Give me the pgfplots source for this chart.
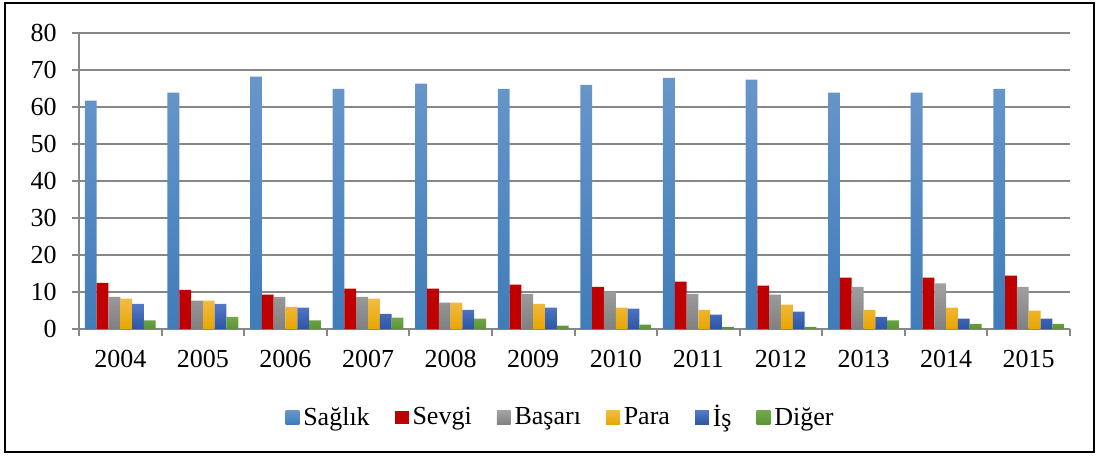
\documentclass[border=0pt]{standalone}
\usepackage{pgfplots}
\pgfplotsset{compat=1.18}
\usepackage{fontspec}
\setmainfont{Liberation Serif}
\usetikzlibrary{calc}
\definecolor{csagT}{HTML}{6896CA}
\definecolor{csagB}{HTML}{3F7CB9}
\definecolor{csev}{HTML}{C00000}
\definecolor{cbasT}{HTML}{A2A2A2}
\definecolor{cbasB}{HTML}{808080}
\definecolor{cparT}{HTML}{F0BC45}
\definecolor{cparB}{HTML}{E9A600}
\definecolor{cisT}{HTML}{5479C7}
\definecolor{cisB}{HTML}{2C55A6}
\definecolor{cdigT}{HTML}{71A84A}
\definecolor{cdigB}{HTML}{5A9436}
\definecolor{cgrid}{HTML}{878787}
\begin{document}
\begin{tikzpicture}
\begin{axis}[
  name=ax,
  scale only axis,
  width=495.5pt, height=148pt,
  xmin=-0.5, xmax=11.5, ymin=0, ymax=80,
  ybar=0pt, bar width=5.9pt,
  axis y line*=left, axis x line*=bottom,
  axis line style={cgrid, line width=1pt, -},
  ytick={0,10,...,80},
  ymajorgrids, grid style={cgrid, line width=0.9pt},
  xtick={0,...,11},
  xticklabels={2004,2005,2006,2007,2008,2009,2010,2011,2012,2013,2014,2015},
  minor xtick={-0.5,0.5,...,11.5},
  major x tick style={draw=none},
  minor x tick style={cgrid, line width=1pt},
  minor tick length=3.6pt,
  major tick length=3.6pt,
  y tick style={cgrid, line width=1pt},
  tick align=outside,
  tick label style={font=\fontsize{13}{15}\selectfont, text=black},
  /pgf/number format/assume math mode=true,
  xticklabel style={yshift=-3.5pt},
  yticklabel style={xshift=-4pt},
  legend columns=6,
  legend style={draw=none, fill=none, font=\fontsize{13}{15}\selectfont,
    at={($(0,0)!0.487!(1,0)+(0,-34pt)$)}, anchor=north,
    /tikz/every even column/.append style={column sep=10.6pt}},
  legend image code/.code={\path[#1, draw=none] (0pt,-3.4pt) rectangle (6.8pt,3.4pt);},
  legend cell align=left,
]
\addplot[top color=csagT, bottom color=csagB, draw=none] coordinates {(0,61.7) (1,63.9) (2,68.2) (3,64.9) (4,66.3) (5,64.9) (6,66.0) (7,67.9) (8,67.4) (9,63.9) (10,63.9) (11,64.9)};
\addplot[fill=csev, draw=none] coordinates {(0,12.5) (1,10.6) (2,9.3) (3,10.9) (4,10.9) (5,12.0) (6,11.4) (7,12.8) (8,11.7) (9,13.9) (10,13.9) (11,14.4)};
\addplot[top color=cbasT, bottom color=cbasB, draw=none] coordinates {(0,8.7) (1,7.7) (2,8.7) (3,8.7) (4,7.1) (5,9.5) (6,10.1) (7,9.5) (8,9.3) (9,11.4) (10,12.3) (11,11.4)};
\addplot[top color=cparT, bottom color=cparB, draw=none] coordinates {(0,8.2) (1,7.7) (2,6.0) (3,8.2) (4,7.1) (5,6.8) (6,5.8) (7,5.2) (8,6.6) (9,5.2) (10,5.8) (11,5.0)};
\addplot[top color=cisT, bottom color=cisB, draw=none] coordinates {(0,6.8) (1,6.8) (2,5.8) (3,4.1) (4,5.2) (5,5.8) (6,5.5) (7,3.9) (8,4.7) (9,3.3) (10,2.8) (11,2.8)};
\addplot[top color=cdigT, bottom color=cdigB, draw=none] coordinates {(0,2.3) (1,3.3) (2,2.3) (3,3.1) (4,2.8) (5,0.9) (6,1.2) (7,0.6) (8,0.6) (9,2.3) (10,1.4) (11,1.4)};
\legend{Sağlık,Sevgi,Başarı,Para,İş,Diğer}
\end{axis}
\draw[black, line width=1.1pt] ($(ax.south west)+(-37pt,-61.5pt)$) rectangle ($(ax.south west)+(507.5pt,163pt)$);
\path[use as bounding box] ($(ax.south west)+(-39.5pt,-64pt)$) rectangle ($(ax.south west)+(510.5pt,164.5pt)$);
\end{tikzpicture}
\end{document}
